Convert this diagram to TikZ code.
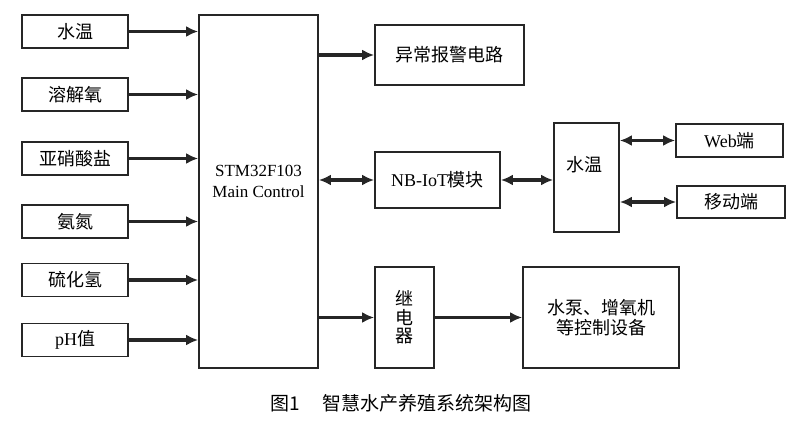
\documentclass[tikz,border=0pt]{standalone}
\usepackage{fontspec}
\setmainfont{Liberation Serif}
\newfontfamily\cjk{Noto Sans CJK SC}
\usetikzlibrary{arrows.meta}
\begin{document}
\begin{tikzpicture}[
        x=1pt, y=-1pt,
        box/.style={
          draw=black!85,
          line width=1.8pt,
          inner sep=0pt,
          align=center,
          font=\fontsize{18}{20}\selectfont
        },
        sensor/.style={box, minimum width=106pt, minimum height=33pt},
        txt/.style={inner sep=0pt, align=center, font=\fontsize{18}{20}\selectfont},
        link/.style={draw=black!85, line width=3.2pt, -{Latex[length=12pt,width=11pt]}},
        duplex/.style={draw=black!85, line width=3.2pt, {Latex[length=12pt,width=11pt]}-{Latex[length=12pt,width=11pt]}}
      ]
      \useasboundingbox (0,0) rectangle (800,435);

      % sensors
      \node[sensor] (temp) at (75,31.5) {\cjk 水温};
      \node[sensor] (oxygen) at (75,94.5) {\cjk 溶解氧};
      \node[sensor] (nitrite) at (75,158.5) {\cjk 亚硝酸盐};
      \node[sensor] (ammonia) at (75,221.5) {\cjk 氨氮};
      \node[sensor] (hsulfide) at (75,280) {\cjk 硫化氢};
      \node[sensor] (ph) at (75,340) {pH{\cjk 值}};

      % main control
      \node[box, minimum width=119pt, minimum height=353pt] (main) at (258.5,191.5) {};
      \node[txt, font=\fontsize{17}{21}\selectfont] (maintxt) at (258.5,181)
        {STM32F103\\Main Control};

      % outputs
      \node[box, minimum width=149pt, minimum height=60pt] (alarm) at (449.5,55) {\cjk 异常报警电路};
      \node[box, minimum width=125pt, minimum height=56pt] (nbiot) at (437.5,180) {NB-IoT{\cjk 模块}};
      \node[box, minimum width=65pt, minimum height=109pt] (cloud) at (586.5,177.5) {};
      \node[txt] (cloudtxt) at (584,165) {\cjk 水温};
      \node[box, minimum width=107pt, minimum height=33pt] (web) at (729.5,140.5) {Web{\cjk 端}};
      \node[box, minimum width=108pt, minimum height=32pt] (mobile) at (731,202) {\cjk 移动端};
      \node[box, minimum width=59pt, minimum height=101pt, font=\fontsize{18}{18.5}\selectfont]
        (relay) at (404.5,317.5) {\cjk 继\\\cjk 电\\\cjk 器};
      \node[box, minimum width=156pt, minimum height=101pt] (devices) at (601,317.5)
        {\cjk 水泵、增氧机\\\cjk 等控制设备};

      % caption
      \node[txt, font=\fontsize{19}{22}\selectfont] (caption) at (401,403)
        {\cjk 图1\hspace{1.2em}智慧水产养殖系统架构图};

      \foreach \s in {temp,oxygen,nitrite,ammonia,hsulfide,ph}
        \draw[link] (\s.east) -- (\s.east -| main.west);
      \draw[link] (main.east |- alarm) -- (alarm.west);
      \draw[duplex] (main.east |- nbiot) -- (nbiot.west);
      \draw[duplex] (nbiot.east) -- (cloud.west |- nbiot);
      \draw[duplex] (cloud.east |- web) -- (web.west);
      \draw[duplex] (cloud.east |- mobile) -- (mobile.west);
      \draw[link] (main.east |- relay) -- (relay.west);
      \draw[link] (relay.east) -- (devices.west);
    \end{tikzpicture}
\end{document}
